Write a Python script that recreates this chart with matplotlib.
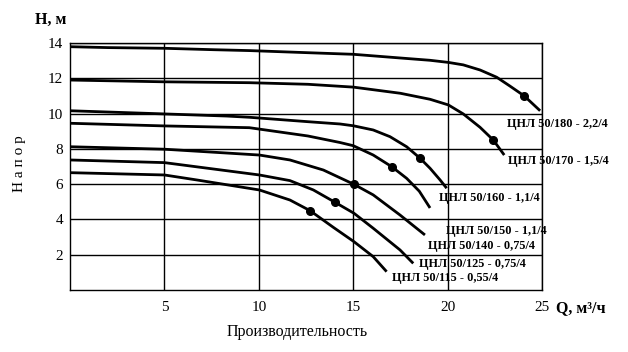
import numpy as np
import matplotlib
matplotlib.use("Agg")
import matplotlib.pyplot as plt

plt.rcParams['font.family'] = ['Liberation Serif', 'DejaVu Serif']

# flow Q (m3/h) and head H (m)
q180 = [0, 2, 5, 7.6, 9.5, 12.6, 15.0, 17.5, 19.07, 20.04, 20.83, 21.72, 22.6, 23.3, 24.06, 24.9]
h180 = [13.79, 13.74, 13.7, 13.62, 13.57, 13.45, 13.36, 13.15, 13.02, 12.9, 12.76, 12.47, 12.06, 11.56, 11.0, 10.16]
q170 = [0, 5, 9.5, 12.6, 15.0, 17.5, 19.07, 20.04, 20.83, 21.72, 22.42, 23.0]
h170 = [11.9, 11.8, 11.75, 11.66, 11.5, 11.15, 10.81, 10.49, 9.98, 9.22, 8.5, 7.65]
q160 = [0, 5, 8.3, 9.5, 12.6, 14.3, 15.0, 16.06, 16.95, 17.83, 18.54, 19.07, 19.6, 19.95]
h160 = [10.16, 9.98, 9.86, 9.79, 9.54, 9.41, 9.31, 9.07, 8.69, 8.12, 7.47, 6.9, 6.24, 5.77]
q150 = [0, 5, 9.5, 12.6, 14.3, 15.0, 16.06, 17.04, 17.83, 18.5, 19.07]
h150 = [9.45, 9.3, 9.2, 8.73, 8.36, 8.18, 7.65, 6.99, 6.33, 5.6, 4.65]
q140 = [0, 5, 10.03, 11.65, 13.42, 15.04, 16.06, 17.48, 18.8]
h140 = [8.12, 7.98, 7.65, 7.37, 6.8, 5.99, 5.39, 4.25, 3.12]
q125 = [0, 5, 10.03, 11.65, 12.89, 14.04, 15.04, 16.06, 17.48, 18.18]
h125 = [7.37, 7.22, 6.52, 6.2, 5.67, 4.97, 4.35, 3.5, 2.27, 1.51]
q115 = [0, 5, 6.7, 10.03, 11.65, 12.71, 13.95, 15.04, 16.06, 16.77]
h115 = [6.65, 6.52, 6.24, 5.67, 5.1, 4.5, 3.55, 2.74, 1.89, 1.04]

# marked duty points
mark_q = [24.06, 22.42, 18.54, 17.04, 15.04, 14.04, 12.71]
mark_h = [11.0, 8.5, 7.47, 6.99, 5.99, 4.97, 4.5]

labels = ["ЦНЛ 50/180 - 2,2/4", "ЦНЛ 50/170 - 1,5/4", "ЦНЛ 50/160 - 1,1/4",
          "ЦНЛ 50/150 - 1,1/4", "ЦНЛ 50/140 - 0,75/4", "ЦНЛ 50/125 - 0,75/4",
          "ЦНЛ 50/115 - 0,55/4"]
label_q = [23.15, 23.2, 19.55, 19.9, 18.95, 18.5, 17.05]
label_h = [9.4, 7.3, 5.2, 3.34, 2.49, 1.47, 0.68]

fig = plt.figure(figsize=(6.28, 3.52), dpi=100)
ax = fig.add_axes([70 / 628, 1 - 290 / 352, 472 / 628, 247 / 352])

curves = [(q180, h180), (q170, h170), (q160, h160), (q150, h150),
          (q140, h140), (q125, h125), (q115, h115)]
for q, h in curves:
    ax.plot(q, h, color='black', lw=2, solid_capstyle='butt', solid_joinstyle='round')
ax.plot(mark_q, mark_h, 'o', color='black', ms=5.5, ls='none')

for t, x, y in zip(labels, label_q, label_h):
    ax.text(x, y, t, fontsize=8.8, fontweight='bold', ha='left', va='center')

ax.set_xlim(0, 25)
ax.set_ylim(0, 14)
ax.set_xticks([5, 10, 15, 20, 25])
ax.set_yticks([2, 4, 6, 8, 10, 12, 14])
ax.grid(True, color='black', lw=1)
for s in ax.spines.values():
    s.set_linewidth(1)
ax.tick_params(length=0, labelsize=11)
ax.tick_params(axis='x', pad=8)
ax.tick_params(axis='y', pad=5)

fig.text(35 / 628, 1 - 20 / 352, "H, м", fontsize=11.5, fontweight='bold', va='center')
fig.text(556 / 628, 1 - 308 / 352, "Q, м³/ч", fontsize=11.5, fontweight='bold', va='center')
fig.text(297 / 628, 1 - 332 / 352, "Производительность", fontsize=11.5,
         ha='center', va='center')
fig.text(20 / 628, 1 - 164 / 352, "Н а п о р", fontsize=11, rotation=90,
         ha='center', va='center')

fig.savefig("out.png", dpi=100)
